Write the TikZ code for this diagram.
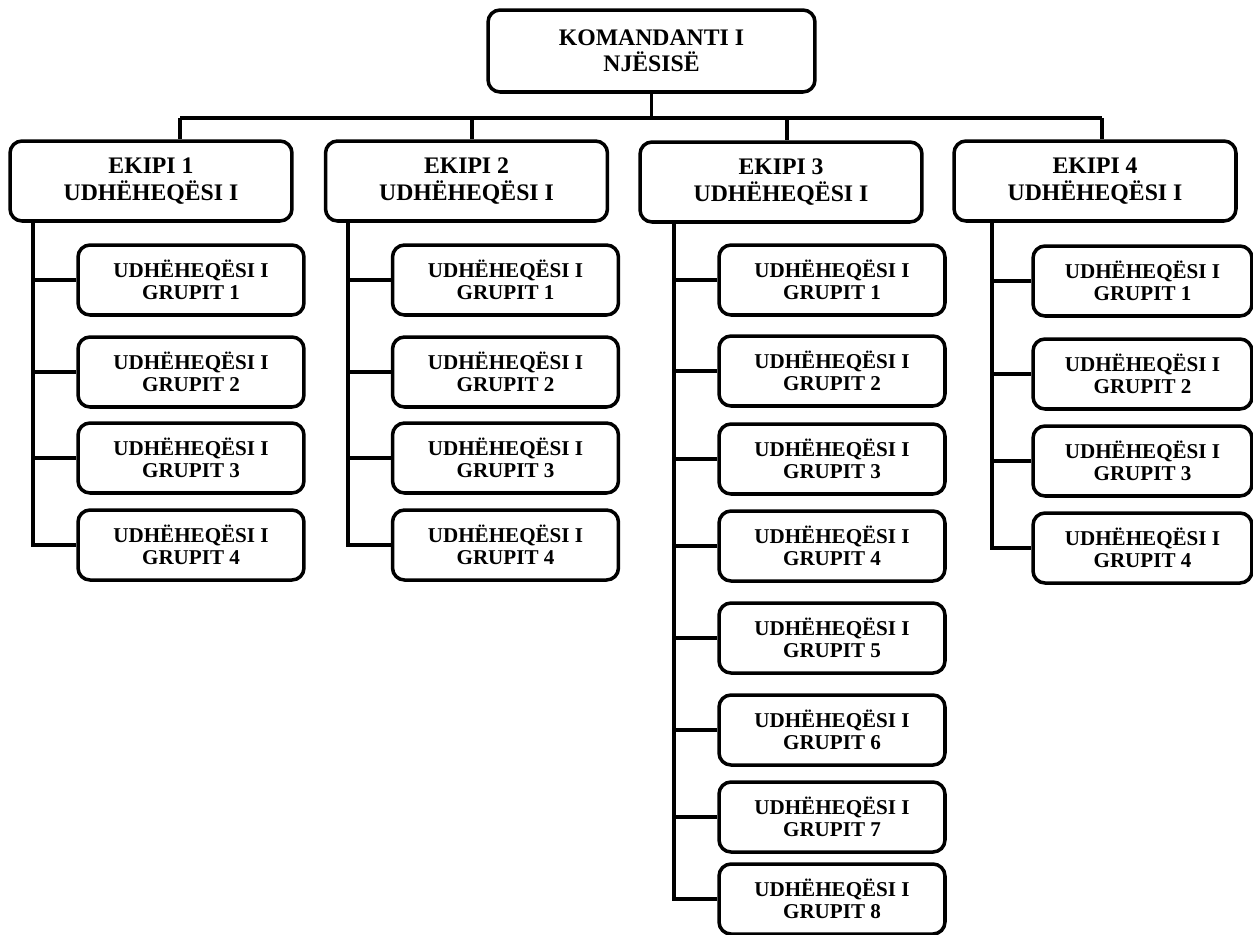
\documentclass[tikz,border=0pt]{standalone}
\usepackage{fontspec}
\setmainfont{Liberation Serif}

\tikzset{
  chief/.style={draw, line width=2pt, rounded corners=0.24cm, align=center, inner sep=0pt,
    font=\fontsize{13.5}{15}\selectfont\bfseries, minimum width=6.54cm, minimum height=1.64cm},
  team/.style={chief, minimum width=5.64cm, minimum height=1.6cm},
  group/.style={draw, line width=2pt, rounded corners=0.24cm, align=center, inner sep=0pt,
    font=\fontsize{12}{12.8}\selectfont\bfseries, minimum width=4.52cm, minimum height=1.4cm},
  link/.style={line width=2pt}
}

\begin{document}
\begin{tikzpicture}[x=0.02cm, y=-0.02cm]
                    \useasboundingbox (0,0) rectangle (1253,934);

                    % Commander
                    \node[chief] (cmd) at (651.5,51) {KOMANDANTI I\\NJËSISË};

                    % Teams
                    \node[team] (t1) at (151,181) {EKIPI 1\\UDHËHEQËSI I};
                    \node[team] (t2) at (466.5,181) {EKIPI 2\\UDHËHEQËSI I};
                    \node[team] (t3) at (781,182) {EKIPI 3\\UDHËHEQËSI I};
                    \node[team] (t4) at (1095,181) {EKIPI 4\\UDHËHEQËSI I};

                    % Groups of team 1
                    \node[group] (g11) at (191,280) {UDHËHEQËSI I\\GRUPIT 1};
                    \node[group] (g12) at (191,372) {UDHËHEQËSI I\\GRUPIT 2};
                    \node[group] (g13) at (191,458) {UDHËHEQËSI I\\GRUPIT 3};
                    \node[group] (g14) at (191,545) {UDHËHEQËSI I\\GRUPIT 4};

                    % Groups of team 2
                    \node[group] (g21) at (505.5,280) {UDHËHEQËSI I\\GRUPIT 1};
                    \node[group] (g22) at (505.5,372) {UDHËHEQËSI I\\GRUPIT 2};
                    \node[group] (g23) at (505.5,458) {UDHËHEQËSI I\\GRUPIT 3};
                    \node[group] (g24) at (505.5,545) {UDHËHEQËSI I\\GRUPIT 4};

                    % Groups of team 3
                    \node[group] (g31) at (832,280) {UDHËHEQËSI I\\GRUPIT 1};
                    \node[group] (g32) at (832,371) {UDHËHEQËSI I\\GRUPIT 2};
                    \node[group] (g33) at (832,459) {UDHËHEQËSI I\\GRUPIT 3};
                    \node[group] (g34) at (832,546) {UDHËHEQËSI I\\GRUPIT 4};
                    \node[group] (g35) at (832,638) {UDHËHEQËSI I\\GRUPIT 5};
                    \node[group] (g36) at (832,730) {UDHËHEQËSI I\\GRUPIT 6};
                    \node[group] (g37) at (832,817) {UDHËHEQËSI I\\GRUPIT 7};
                    \node[group] (g38) at (832,899) {UDHËHEQËSI I\\GRUPIT 8};

                    % Groups of team 4
                    \node[group, minimum width=4.38cm] (g41) at (1142.5,281) {UDHËHEQËSI I\\GRUPIT 1};
                    \node[group, minimum width=4.38cm] (g42) at (1142.5,374) {UDHËHEQËSI I\\GRUPIT 2};
                    \node[group, minimum width=4.38cm] (g43) at (1142.5,461) {UDHËHEQËSI I\\GRUPIT 3};
                    \node[group, minimum width=4.38cm] (g44) at (1142.5,548) {UDHËHEQËSI I\\GRUPIT 4};

                    % Bus
                    \coordinate (b1) at (180,118);
                    \coordinate (b2) at (472,118);
                    \coordinate (b3) at (787,118);
                    \coordinate (b4) at (1102,118);
                    \draw[link] (cmd.south) -- (cmd.south |- b1);
                    \draw[link] (b1) -- (b4);
                    \draw[link] (b1) -- (b1 |- t1.north);
                    \draw[link] (b2) -- (b2 |- t2.north);
                    \draw[link] (b3) -- (b3 |- t3.north);
                    \draw[link] (b4) -- (b4 |- t4.north);

                    % Spines
                    \coordinate (sp1) at (33,221);
                    \coordinate (sp2) at (348,221);
                    \coordinate (sp3) at (674,222);
                    \coordinate (sp4) at (992,221);
                    \draw[link] (sp1) -- (sp1 |- g14.west) -- (g14.west);
                    \draw[link] (sp2) -- (sp2 |- g24.west) -- (g24.west);
                    \draw[link] (sp3) -- (sp3 |- g38.west) -- (g38.west);
                    \draw[link] (sp4) -- (sp4 |- g44.west) -- (g44.west);

                    % Stubs
                    \draw[link] (sp1 |- g11.west) -- (g11.west) (sp1 |- g12.west) -- (g12.west) (sp1 |- g13.west) -- (g13.west);
                    \draw[link] (sp2 |- g21.west) -- (g21.west) (sp2 |- g22.west) -- (g22.west) (sp2 |- g23.west) -- (g23.west);
                    \draw[link] (sp3 |- g31.west) -- (g31.west) (sp3 |- g32.west) -- (g32.west) (sp3 |- g33.west) -- (g33.west)
                                (sp3 |- g34.west) -- (g34.west) (sp3 |- g35.west) -- (g35.west) (sp3 |- g36.west) -- (g36.west)
                                (sp3 |- g37.west) -- (g37.west);
                    \draw[link] (sp4 |- g41.west) -- (g41.west) (sp4 |- g42.west) -- (g42.west) (sp4 |- g43.west) -- (g43.west);
\end{tikzpicture}
\end{document}
